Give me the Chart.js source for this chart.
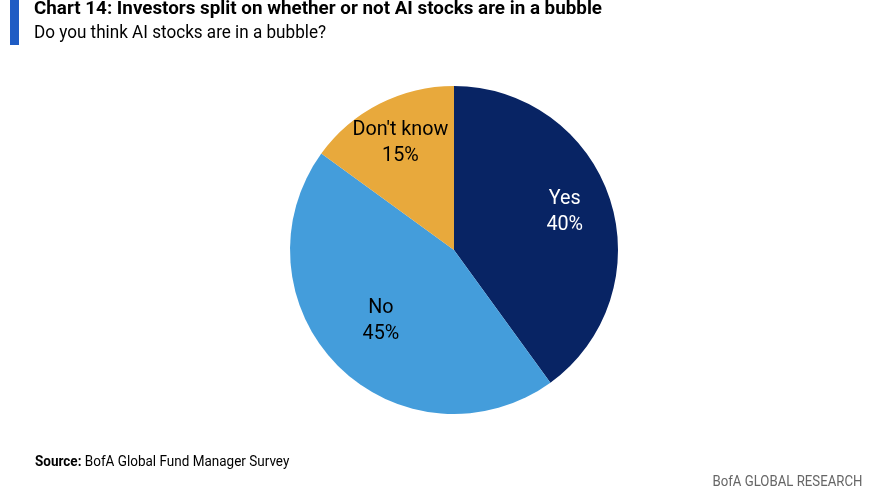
<!DOCTYPE html>
<html>
<head>
<meta charset="utf-8">
<script src="https://cdn.jsdelivr.net/npm/chart.js@4"></script>
<style>
  html, body { margin: 0; padding: 0; background: #fff; }
  body { width: 870px; height: 500px; position: relative; overflow: hidden;
         font-family: Roboto, "Liberation Sans", sans-serif; color: #000; }
  #bar { position: absolute; left: 10px; top: 0; width: 9px; height: 45px; background: #1f5cc4; }
  #title { position: absolute; left: 34px; top: -4px; font-size: 19px; font-weight: bold; white-space: nowrap;
           transform: scaleX(0.99); transform-origin: left top; }
  #subtitle { position: absolute; left: 34px; top: 21px; font-size: 18px; white-space: nowrap;
              transform: scaleX(0.95); transform-origin: left top; }
  #source { position: absolute; left: 35px; top: 452px; font-size: 15px; white-space: nowrap;
            transform: scaleX(0.9); transform-origin: left top; }
  #brand { position: absolute; right: 8px; top: 472px; font-size: 15px; color: #666; white-space: nowrap;
           transform: scaleX(0.88); transform-origin: right top; }
  #wrap { position: absolute; left: 0; top: 0; width: 870px; height: 500px; }
</style>
</head>
<body>
<div id="wrap"><canvas id="pie" width="870" height="500"></canvas></div>
<div id="bar"></div>
<div id="title">Chart 14: Investors split on whether or not AI stocks are in a bubble</div>
<div id="subtitle">Do you think AI stocks are in a bubble?</div>
<div id="source"><b>Source:</b> BofA Global Fund Manager Survey</div>
<div id="brand">BofA GLOBAL RESEARCH</div>
<script>
// data, clockwise from 12 o'clock
const answers = ['Yes', 'No', "Don't know"];
const shares = [40, 45, 15];
const sliceColors = ['#082464', '#449ddb', '#e8a93c'];
const labelColors = ['#ffffff', '#000000', '#000000'];
const labelRadius = [0.71, 0.63, 0.72]; // fraction of outer radius

// slice labels: name on one line, percentage below
const sliceLabels = {
  id: 'sliceLabels',
  afterDatasetsDraw(chart) {
    const ctx = chart.ctx;
    const meta = chart.getDatasetMeta(0);
    ctx.save();
    ctx.font = '21px Roboto, "Liberation Sans", sans-serif';
    ctx.textAlign = 'center';
    ctx.textBaseline = 'middle';
    meta.data.forEach((arc, i) => {
      const mid = (arc.startAngle + arc.endAngle) / 2;
      const r = arc.outerRadius * labelRadius[i];
      const x = arc.x + Math.cos(mid) * r;
      const y = arc.y + Math.sin(mid) * r;
      ctx.fillStyle = labelColors[i];
      // slightly condensed like the original typeface
      ctx.save();
      ctx.translate(x, y);
      ctx.scale(0.94, 1);
      ctx.fillText(answers[i], 0, -15);
      ctx.fillText(shares[i] + '%', 0, 11);
      ctx.restore();
    });
    ctx.restore();
  }
};

new Chart(document.getElementById('pie').getContext('2d'), {
  type: 'pie',
  data: {
    labels: answers,
    datasets: [{
      data: shares,
      backgroundColor: sliceColors,
      borderWidth: 0
    }]
  },
  options: {
    responsive: false,
    animation: false,
    layout: { padding: { left: 290, right: 252, top: 86, bottom: 86 } },
    plugins: {
      legend: { display: false },
      tooltip: { enabled: false }
    }
  },
  plugins: [sliceLabels]
});
</script>
</body>
</html>
